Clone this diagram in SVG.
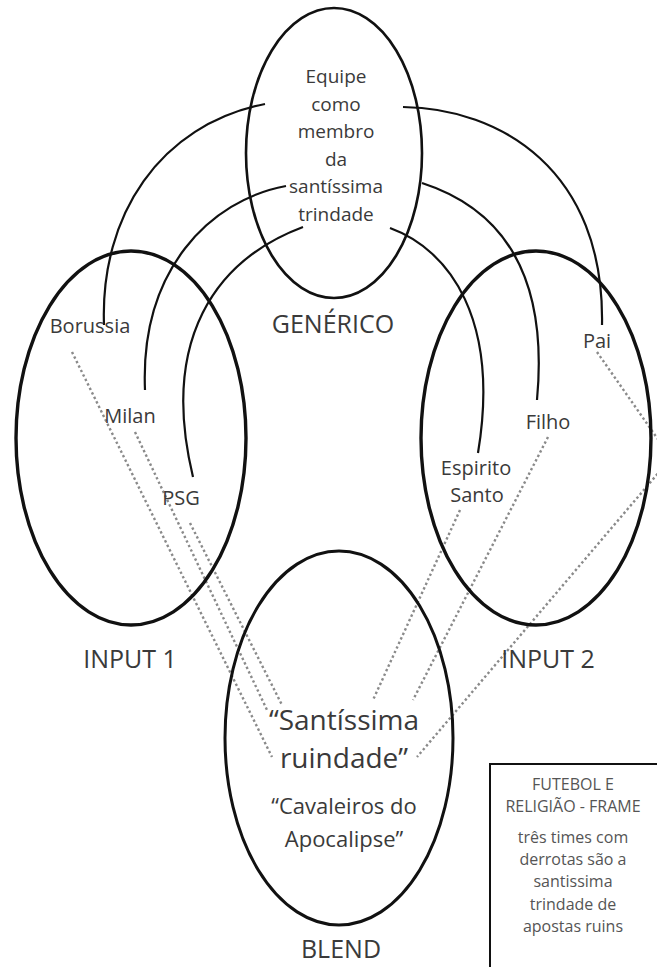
<svg xmlns="http://www.w3.org/2000/svg" width="657" height="967" viewBox="0 0 657 967">
<style>
.el{fill:none;stroke:#111;}
.arc{fill:none;stroke:#111;stroke-width:2.2;}
.dot{fill:none;stroke:#8a8a8a;stroke-width:2.4;stroke-dasharray:2.4 2.6;}
text{font-family:"Open Sans","Noto Sans","Liberation Sans",sans-serif;fill:#3a3a3a;text-anchor:middle;}
.lab{font-size:25px;}
.item{font-size:20px;}
.gen{font-size:19px;}
.bl1{font-size:28px;}
.bl2{font-size:22px;}
.fr{font-size:16px;fill:#555;}
</style>
<rect width="657" height="967" fill="#fff"/>
<g id="connectors">
<path class="arc" d="M104,325 C100,215 160,125 265,104"/>
<path class="arc" d="M403,107 C500,108 605,170 602,325"/>
<path class="arc" d="M286,186 C210,200 140,270 145,390"/>
<path class="arc" d="M303,227 C215,260 160,340 193,477"/>
<path class="arc" d="M422,183 C490,205 550,260 537,400"/>
<path class="arc" d="M390,228 C450,250 500,320 478,453"/>
<path class="dot" d="M72,352 L272,757"/>
<path class="dot" d="M135,432 L268,712"/>
<path class="dot" d="M190,523 L282,705"/>
<path class="dot" d="M460,510 L373,700"/>
<path class="dot" d="M548,437 L413,700"/>
<path class="dot" d="M597,352 L671,458 L417,757"/>
</g>
<g id="generico">
<ellipse class="el" cx="334" cy="153" rx="88" ry="145" stroke-width="2.6"/>
<text class="gen" x="336" y="83">Equipe</text>
<text class="gen" x="336" y="111">como</text>
<text class="gen" x="336" y="138">membro</text>
<text class="gen" x="336" y="166">da</text>
<text class="gen" x="336" y="193">santíssima</text>
<text class="gen" x="336" y="221">trindade</text>
<text class="lab" x="333" y="333">GENÉRICO</text>
</g>
<g id="input1">
<ellipse class="el" cx="131" cy="438" rx="115" ry="187" stroke-width="3.4"/>
<text class="item" x="90" y="333">Borussia</text>
<text class="item" x="130" y="423">Milan</text>
<text class="item" x="181" y="505">PSG</text>
<text class="lab" x="130" y="668">INPUT 1</text>
</g>
<g id="input2">
<ellipse class="el" cx="536" cy="438" rx="115" ry="187" stroke-width="3.4"/>
<text class="item" x="597" y="348">Pai</text>
<text class="item" x="548" y="429">Filho</text>
<text class="item" x="476" y="475" font-size="19">Espirito</text>
<text class="item" x="477" y="502" font-size="19">Santo</text>
<text class="lab" x="548" y="668">INPUT 2</text>
</g>
<g id="blend">
<ellipse class="el" cx="339" cy="738" rx="114" ry="187" stroke-width="3"/>
<text class="bl1" x="344" y="730">“Santíssima</text>
<text class="bl1" x="344" y="768">ruindade”</text>
<text class="bl2" x="344" y="814">“Cavaleiros do</text>
<text class="bl2" x="344" y="847">Apocalipse”</text>
<text class="lab" x="341" y="958">BLEND</text>
</g>
<g id="frame">
<rect x="490" y="764" width="200" height="250" fill="#fff" stroke="#111" stroke-width="2"/>
<text class="fr" x="573" y="790">FUTEBOL E</text>
<text class="fr" x="573" y="812">RELIGIÃO - FRAME</text>
<text class="fr" x="573" y="843">três times com</text>
<text class="fr" x="573" y="865">derrotas são a</text>
<text class="fr" x="573" y="887">santissima</text>
<text class="fr" x="573" y="910">trindade de</text>
<text class="fr" x="573" y="932">apostas ruins</text>
</g>
</svg>
